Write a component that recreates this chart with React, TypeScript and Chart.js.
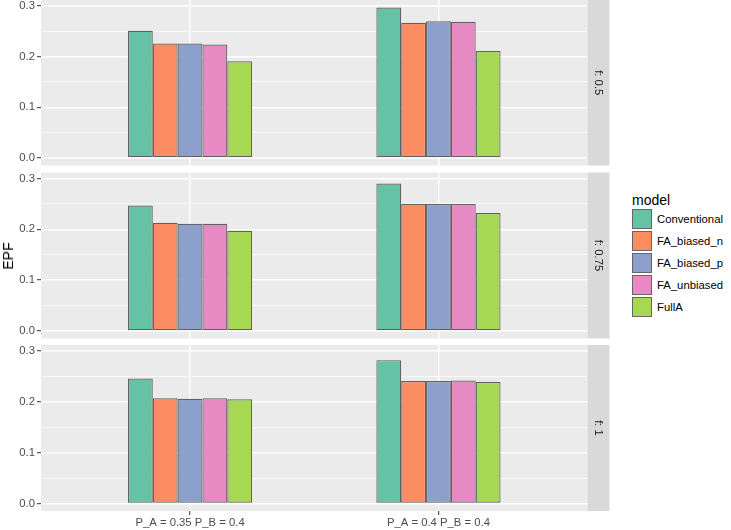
import React, { useEffect, useRef } from 'react';
import { Chart, registerables } from 'chart.js';

Chart.register(...registerables);

// ---- data ----
const categories = ['P_A = 0.35 P_B = 0.4', 'P_A = 0.4 P_B = 0.4'];
const models = ['Conventional', 'FA_biased_n', 'FA_biased_p', 'FA_unbiased', 'FullA'];
const facets = ['f: 0.5', 'f: 0.75', 'f: 1'];

// values per facet (f: 0.5, f: 0.75, f: 1), each [category1, category2]
const conventional = [[0.251, 0.297], [0.247, 0.290], [0.246, 0.282]];
const faBiasedN = [[0.226, 0.267], [0.213, 0.250], [0.207, 0.241]];
const faBiasedP = [[0.226, 0.270], [0.211, 0.250], [0.206, 0.241]];
const faUnbiased = [[0.224, 0.269], [0.211, 0.250], [0.207, 0.242]];
const fullA = [[0.191, 0.211], [0.197, 0.232], [0.205, 0.239]];
const series = [conventional, faBiasedN, faBiasedP, faUnbiased, fullA];

const yTicks = [0, 0.05, 0.1, 0.15, 0.2, 0.25, 0.3];
const yMajorTicks = [0, 0.1, 0.2, 0.3];

// ---- styles ----
const colors = ['#66C2A5', '#FC8D62', '#8DA0CB', '#E78AC3', '#A6D854'];
const FONT = "'Liberation Sans', Arial, Helvetica, sans-serif";
const Y_MIN = -0.01485;
const Y_MAX = 0.31185;

const panelPlugin = {
  id: 'panelDeco',
  beforeDraw(chart: any) {
    const { ctx, chartArea: a } = chart;
    ctx.save();
    ctx.fillStyle = '#EBEBEB';
    ctx.fillRect(a.left, a.top, a.right - a.left, a.bottom - a.top);
    ctx.restore();
  },
  afterDraw(chart: any, _args: any, opts: any) {
    const { ctx, chartArea: a } = chart;
    ctx.save();
    ctx.fillStyle = '#D9D9D9';
    ctx.fillRect(a.right, a.top, 22, a.bottom - a.top);
    ctx.translate(a.right + 11, (a.top + a.bottom) / 2);
    ctx.rotate(Math.PI / 2);
    ctx.fillStyle = '#1A1A1A';
    ctx.font = `11.3px ${FONT}`;
    ctx.textAlign = 'center';
    ctx.textBaseline = 'middle';
    ctx.fillText(opts.label, 0, 0);
    ctx.restore();
  },
};

type PanelProps = {
  facetIndex: number;
  top: number;
  height: number;
  padTop: number;
  padBottom: number;
  showX: boolean;
};

function Panel({ facetIndex, top, height, padTop, padBottom, showX }: PanelProps) {
  const ref = useRef<HTMLCanvasElement | null>(null);
  useEffect(() => {
    if (!ref.current) return;
    const datasets = models.map((m, mi) => ({
      label: m,
      data: categories.map((_c, ci) => ({ x: ci + 1, y: series[mi][facetIndex][ci] })),
      backgroundColor: colors[mi],
      borderColor: '#626262',
      borderWidth: 1.2,
      borderSkipped: false,
      categoryPercentage: 0.5,
      barPercentage: 1,
    }));
    const tickFont = { family: FONT, size: 11.3 };
    const chart = new Chart(ref.current, {
      type: 'bar',
      data: { datasets } as any,
      plugins: [panelPlugin],
      options: {
        animation: false,
        responsive: false,
        maintainAspectRatio: false,
        devicePixelRatio: 1,
        layout: { padding: { top: padTop, bottom: padBottom, left: 0, right: 24.5 } },
        plugins: {
          legend: { display: false },
          tooltip: { enabled: false },
          panelDeco: { label: facets[facetIndex] },
        } as any,
        scales: {
          x: {
            type: 'linear',
            min: 0.4,
            max: 2.6,
            offset: false,
            afterBuildTicks: (s: any) => {
              s.ticks = categories.map((_c, i) => ({ value: i + 1 }));
            },
            afterFit: (s: any) => {
              if (showX) s.height = 19;
            },
            ticks: {
              display: showX,
              autoSkip: false,
              maxRotation: 0,
              padding: 1,
              color: '#4D4D4D',
              font: tickFont,
              callback: (v: any) => categories[Math.round(Number(v)) - 1] ?? '',
            },
            grid: {
              offset: false,
              color: '#FFFFFF',
              lineWidth: 1.4,
              drawTicks: showX,
              tickLength: 4,
              tickWidth: 1,
              tickColor: '#333333',
            },
            border: { display: false },
          },
          y: {
            min: Y_MIN,
            max: Y_MAX,
            afterBuildTicks: (s: any) => {
              s.ticks = yTicks.map((v) => ({ value: v }));
            },
            afterFit: (s: any) => {
              s.width = 41;
            },
            ticks: {
              autoSkip: false,
              padding: 2,
              color: '#4D4D4D',
              font: tickFont,
              callback: (v: any) => (yMajorTicks.includes(Number(v)) ? Number(v).toFixed(1) : ''),
            },
            grid: {
              color: '#FFFFFF',
              lineWidth: (ctx: any) => (yMajorTicks.includes(ctx.tick?.value) ? 1.4 : 0.7),
              tickLength: 4,
              tickWidth: 1,
              tickColor: (ctx: any) => (yMajorTicks.includes(ctx.tick?.value) ? '#333333' : 'rgba(0,0,0,0)'),
            },
            border: { display: false },
          },
        } as any,
      },
    });
    return () => chart.destroy();
  }, [facetIndex, padTop, padBottom, showX]);

  return (
    <canvas
      ref={ref}
      width={612}
      height={height}
      style={{ position: 'absolute', left: 0, top, width: 612, height }}
    />
  );
}

export default function App() {
  return (
    <div
      style={{
        position: 'absolute',
        left: 0,
        top: 0,
        width: 731,
        height: 530,
        overflow: 'hidden',
        background: '#FFFFFF',
        fontFamily: FONT,
      }}
    >
      <Panel facetIndex={0} top={-10} height={186} padTop={10} padBottom={10.5} showX={false} />
      <Panel facetIndex={1} top={162} height={187} padTop={10.5} padBottom={10.5} showX={false} />
      <Panel facetIndex={2} top={335} height={195} padTop={10} padBottom={0} showX={true} />

      <div
        style={{
          position: 'absolute',
          left: 8,
          top: 256,
          transform: 'translate(-50%, -50%) rotate(-90deg)',
          fontSize: 14,
          lineHeight: '14px',
          color: '#000',
          whiteSpace: 'nowrap',
        }}
      >
        EPF
      </div>

      <div
        style={{
          position: 'absolute',
          left: 632,
          top: 193,
          fontSize: 14,
          lineHeight: '14px',
          color: '#000',
          whiteSpace: 'nowrap',
        }}
      >
        model
      </div>
      {models.map((m, i) => (
        <React.Fragment key={m}>
          <div
            style={{
              position: 'absolute',
              left: 632,
              top: 209 + i * 22,
              width: 20,
              height: 20,
              boxSizing: 'border-box',
              border: '1px solid #666666',
              background: colors[i],
            }}
          />
          <div
            style={{
              position: 'absolute',
              left: 657,
              top: 209 + i * 22,
              height: 20,
              lineHeight: '20px',
              fontSize: 11.3,
              color: '#000',
              whiteSpace: 'nowrap',
            }}
          >
            {m}
          </div>
        </React.Fragment>
      ))}
    </div>
  );
}
